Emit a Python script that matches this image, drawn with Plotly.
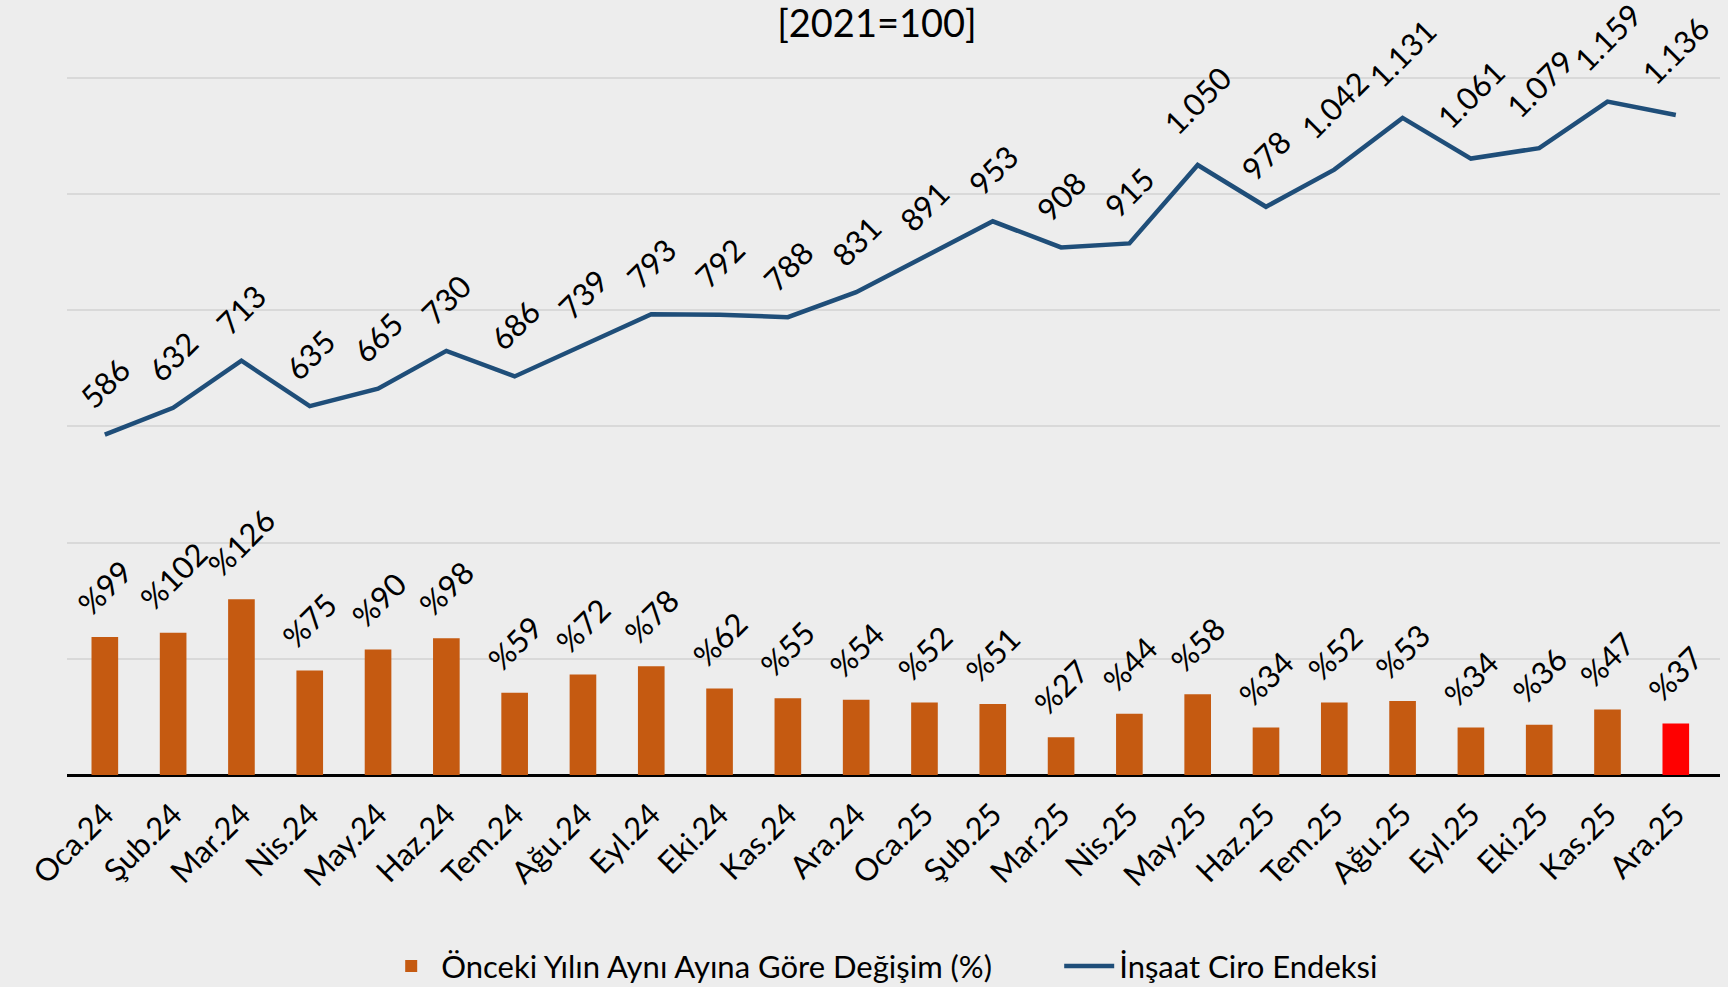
import plotly.graph_objects as go

categories = ["Oca.24", "Şub.24", "Mar.24", "Nis.24", "May.24", "Haz.24", "Tem.24", "Ağu.24",
              "Eyl.24", "Eki.24", "Kas.24", "Ara.24", "Oca.25", "Şub.25", "Mar.25", "Nis.25",
              "May.25", "Haz.25", "Tem.25", "Ağu.25", "Eyl.25", "Eki.25", "Kas.25", "Ara.25"]
index_values = [586, 632, 713, 635, 665, 730, 686, 739, 793, 792, 788, 831,
                891, 953, 908, 915, 1050, 978, 1042, 1131, 1061, 1079, 1159, 1136]
yoy_change = [99, 102, 126, 75, 90, 98, 59, 72, 78, 62, 55, 54,
              52, 51, 27, 44, 58, 34, 52, 53, 34, 36, 47, 37]

bar_name = "Önceki Yılın Aynı Ayına Göre Değişim (%)"
line_name = "İnşaat Ciro Endeksi"
title_text = "[2021=100]"

FONT = "Lato, 'Open Sans', sans-serif"
ORANGE = "#C55A11"
RED = "#FF0000"
BLUE = "#1F4E79"

bar_colors = [ORANGE] * (len(categories) - 1) + [RED]

fig = go.Figure()
fig.add_trace(go.Bar(
    x=categories, y=yoy_change, name=bar_name, yaxis="y2",
    marker=dict(color=bar_colors, line=dict(width=0)),
    hoverinfo="x+y",
))
fig.add_trace(go.Scatter(
    x=categories, y=index_values, name=line_name, mode="lines",
    line=dict(color=BLUE, width=4.5),
))

def tr_fmt(v):
    return f"{v:,}".replace(",", ".")

LBL = 31
annotations = []
for c, v in zip(categories, index_values):
    t = tr_fmt(v)
    annotations.append(dict(
        x=c, y=v, xref="x", yref="y", text=t, showarrow=False,
        textangle=-45, xanchor="center", yanchor="middle",
        yshift=32 + 6.5 * len(t),
        font=dict(family=FONT, size=LBL, color="#000000"),
    ))
for c, v in zip(categories, yoy_change):
    t = f"%{v}"
    annotations.append(dict(
        x=c, y=v, xref="x", yref="y2", text=t, showarrow=False,
        textangle=-45, xanchor="center", yanchor="middle",
        yshift=29 + 7 * len(t),
        font=dict(family=FONT, size=LBL, color="#000000"),
    ))

fig.update_layout(
    width=1728, height=987,
    paper_bgcolor="#EDEDED", plot_bgcolor="#EDEDED",
    margin=dict(l=67, r=8, t=72, b=212, autoexpand=False),
    font=dict(family=FONT, size=31, color="#000000"),
    title=dict(text=title_text, x=0.5075, xanchor="center", y=0.9757, yanchor="middle",
               font=dict(family=FONT, size=38, color="#000000")),
    bargap=0.61,
    showlegend=True,
    legend=dict(orientation="h", xref="container", yref="container",
                x=0.2206, xanchor="left", y=0.021, yanchor="middle",
                font=dict(family=FONT, size=31, color="#000000"),
                bgcolor="rgba(0,0,0,0)", itemwidth=50,
                entrywidth=613, entrywidthmode="pixels"),
    xaxis=dict(type="category", tickangle=-45, showgrid=False, ticks="",
               showline=False, zeroline=False, ticklabelstandoff=14, automargin=False,
               tickfont=dict(family=FONT, size=31, color="#000000")),
    yaxis=dict(range=[0, 1210], dtick=200, showgrid=True, gridcolor="#D9D9D9", gridwidth=2,
               showticklabels=False, zeroline=True, zerolinecolor="#000000", zerolinewidth=3,
               showline=False, automargin=False),
    yaxis2=dict(range=[0, 504.2], overlaying="y", side="right", showgrid=False,
                showticklabels=False, zeroline=False, showline=False, automargin=False),
    annotations=annotations,
)

fig.write_html("out.html", config={"displayModeBar": False},
               post_script="document.body.style.margin='0';document.body.style.overflow='hidden';")
